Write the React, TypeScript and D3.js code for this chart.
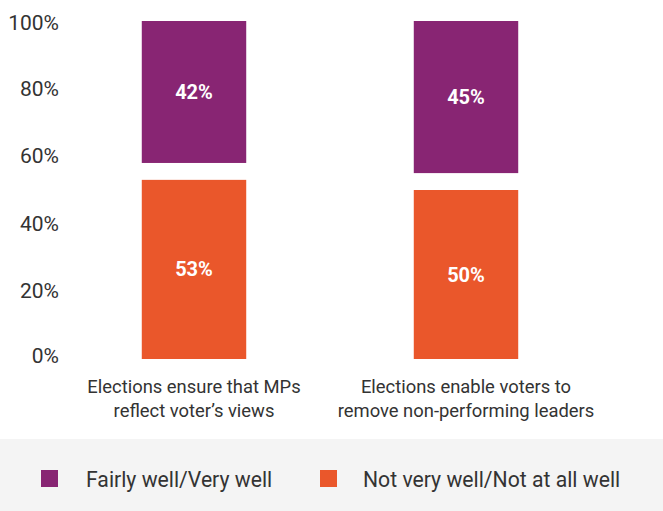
import React from "react";
import * as d3 from "d3";

const categories = [
  ["Elections ensure that MPs", "reflect voter’s views"],
  ["Elections enable voters to", "remove non-performing leaders"],
];
const notWell = [53, 50];
const fairlyWell = [42, 45];
const yTicks = [0, 20, 40, 60, 80, 100];
const seriesNames = ["Fairly well/Very well", "Not very well/Not at all well"];
const colors = ["#882573", "#EA572B"];

const W = 663;
const H = 511;
const FONT = "Roboto, 'Noto Sans', sans-serif";

export default function App() {
  const keys = categories.map((_, i) => String(i));
  const x = d3
    .scaleBand<string>()
    .domain(keys)
    .range([58, 602])
    .paddingInner(0.616)
    .paddingOuter(0.308);
  const y = d3.scaleLinear().domain([0, 100]).range([359, 21]);
  const bw = x.bandwidth();

  return (
    <svg
      width={W}
      height={H}
      style={{ position: "absolute", left: 0, top: 0, background: "#fff" }}
      fontFamily={FONT}
    >
      {yTicks.map((t) => (
        <text
          key={t}
          x={59}
          y={y(t) + (t === 0 ? -3 : t === 100 ? 1.5 : 0)}
          textAnchor="end"
          dominantBaseline="central"
          fontSize={21}
          fill="#333"
        >
          {t}%
        </text>
      ))}
      {keys.map((k, i) => {
        const x0 = x(k)!;
        const oTop = y(notWell[i]);
        const pBottom = y(100 - fairlyWell[i]);
        return (
          <g key={k}>
            <rect x={x0} y={oTop} width={bw} height={y(0) - oTop} fill={colors[1]} />
            <rect x={x0} y={y(100)} width={bw} height={pBottom - y(100)} fill={colors[0]} />
            <text
              x={x0 + bw / 2}
              y={(oTop + y(0)) / 2}
              textAnchor="middle"
              dominantBaseline="central"
              fontSize={20}
              fontWeight="bold"
              fill="#fff"
            >
              {notWell[i]}%
            </text>
            <text
              x={x0 + bw / 2}
              y={(pBottom + y(100)) / 2}
              textAnchor="middle"
              dominantBaseline="central"
              fontSize={20}
              fontWeight="bold"
              fill="#fff"
            >
              {fairlyWell[i]}%
            </text>
            {categories[i].map((line, j) => (
              <text
                key={j}
                x={x0 + bw / 2}
                y={386 + j * 24}
                textAnchor="middle"
                dominantBaseline="central"
                fontSize={18.4}
                fill="#333"
              >
                {line}
              </text>
            ))}
          </g>
        );
      })}
      <rect x={0} y={439} width={W} height={H - 439} fill="#f4f4f4" />
      {seriesNames.map((name, i) => {
        const sx = i === 0 ? 41 : 320;
        const tx = i === 0 ? 86 : 363;
        return (
          <g key={name}>
            <rect x={sx} y={470} width={17} height={17} fill={colors[i]} />
            <text x={tx} y={479} dominantBaseline="central" fontSize={21.2} fill="#333">
              {name}
            </text>
          </g>
        );
      })}
    </svg>
  );
}
